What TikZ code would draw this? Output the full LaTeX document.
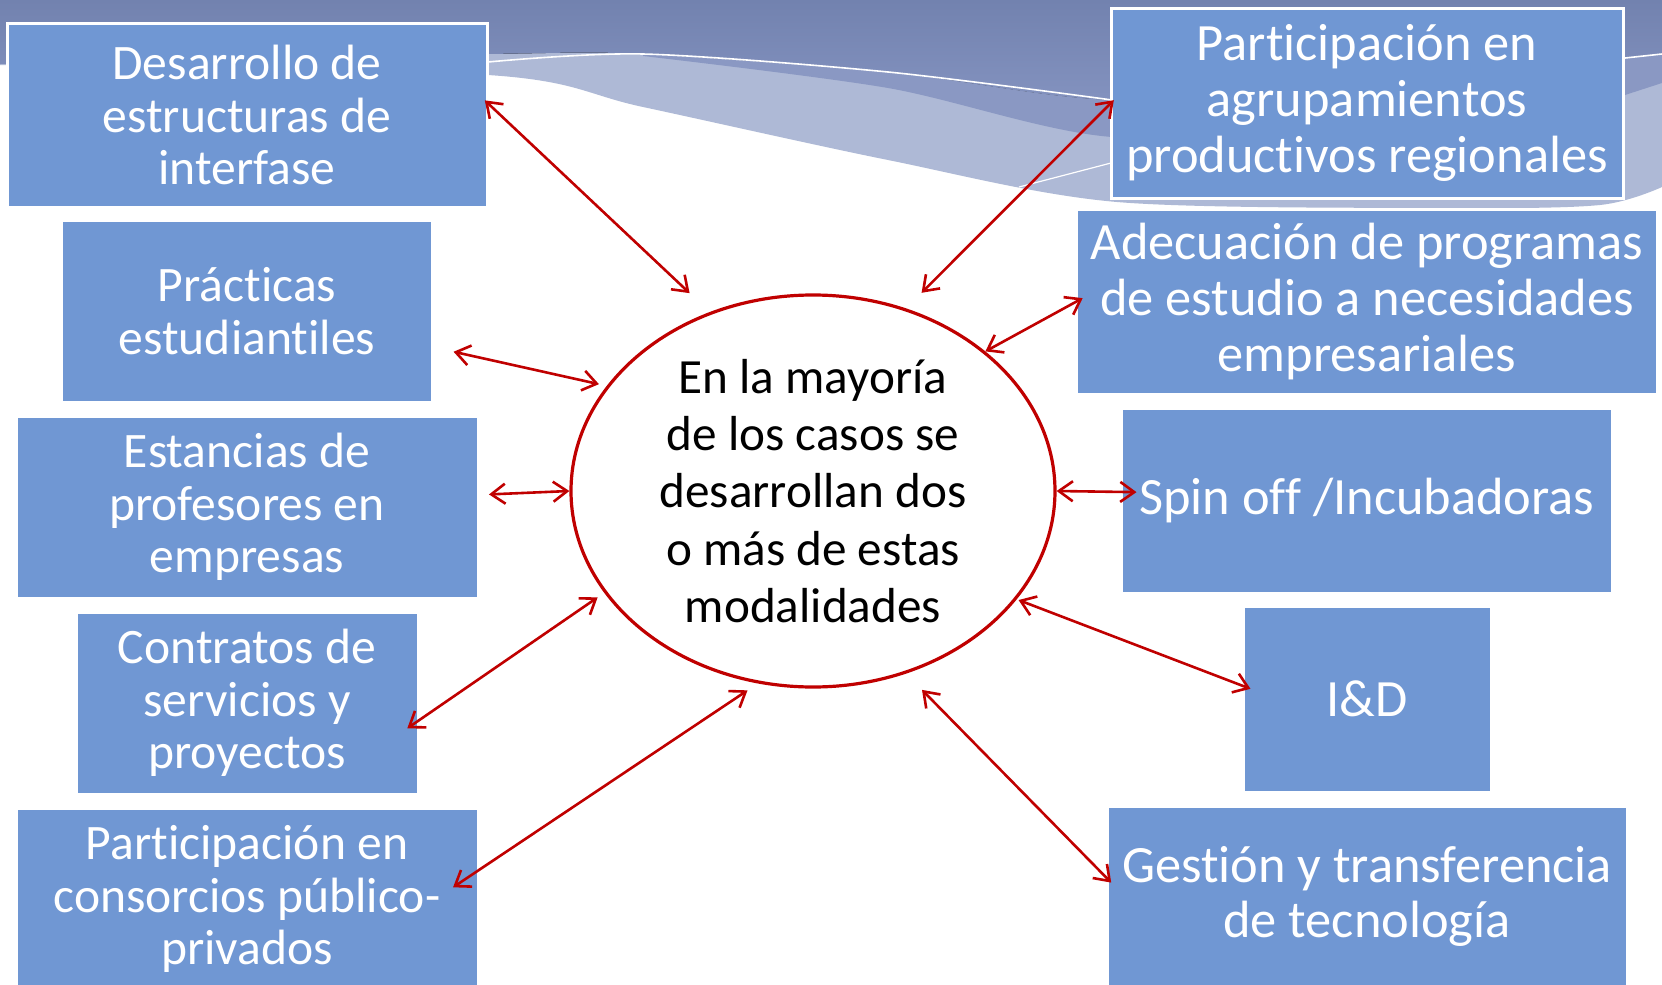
\documentclass[tikz,border=0pt]{standalone}
\usepackage{fontspec}
\setmainfont{Carlito}[Ligatures={NoCommon}]
\usepackage{tikz}
\usetikzlibrary{positioning, arrows.meta, shapes.geometric}
\definecolor{boxfill}{HTML}{7097D3}
\definecolor{linkred}{HTML}{C00000}
\definecolor{wavetop}{HTML}{7282AF}
\definecolor{wavebot}{HTML}{8392BF}
\definecolor{wavemid}{HTML}{8A98C3}
\definecolor{wavelight}{HTML}{AEB9D6}
\tikzset{
  modbox/.style   = {rectangle, draw=white, line width=1.5pt, fill=boxfill,
                     text=white, align=center, inner sep=0pt, outer sep=0pt},
  leftbox/.style  = {modbox, font=\fontsize{24.8}{26.2}\selectfont},
  rightbox/.style = {modbox, font=\fontsize{26.2}{27.8}\selectfont},
  hub/.style      = {ellipse, draw=linkred, line width=1.6pt, fill=white,
                     minimum width=242pt, minimum height=196pt, inner sep=0pt,
                     align=center, font=\fontsize{24.6}{28.6}\selectfont},
  link/.style     = {{Straight Barb[length=7pt,width=10pt]}-{Straight Barb[length=7pt,width=10pt]},
                     draw=linkred, line width=1.3pt},
  waveline/.style = {draw=white, line width=0.8pt},
}

\begin{document}
\begin{tikzpicture}[x=0.5pt, y=0.5pt, node distance=7pt]

  \useasboundingbox (0,0) rectangle (1662,-985);
  \fill[white] (0,0) rectangle (1662,-985);

  % ----- background waves -----
  \fill[wavelight] (0,0) -- (1662,0) -- plot[smooth] coordinates
    {(1662,-187) (1600,-205) (1450,-208) (1117,-202) (888,-160) (643,-107) (488,-75) (0,-65)} -- cycle;
  \fill[top color=wavetop, bottom color=wavebot] (0,0) -- (1662,0) -- plot[smooth] coordinates
    {(1662,-54) (1625,-58) (1370,-85) (1112,-100) (888,-72) (643,-54) (488,-54) (0,-64)} -- cycle;
  \fill[wavemid] plot[smooth] coordinates
    {(643,-54) (888,-72) (1112,-100) (1370,-85) (1625,-58) (1662,-54)}
    -- (1662,-83) -- plot[smooth] coordinates
    {(1625,-95) (1370,-125) (1112,-137) (888,-88) (643,-56)} -- cycle;
  \draw[waveline] plot[smooth] coordinates {(488,-62) (643,-54) (888,-72) (1112,-100)};
  \draw[waveline] (1625,-58) -- (1662,-54);
  \draw[waveline, line width=0.6pt] (1019,-187) -- (1111,-163);

  % ----- centre -----
  \node[hub] (e) at (813,-491)
       {En la mayoría\\de los casos se\\desarrollan dos\\o más de estas\\modalidades};

  % ----- LEFT column -----
  \node[leftbox, minimum width=240pt, minimum height=92pt] (b1) at (247,-115)
       {Desarrollo de\\estructuras de\\interfase};
  \node[leftbox, minimum width=185.5pt, minimum height=91pt, below=6.5pt of b1] (b2)
       {Prácticas\\estudiantiles};
  \node[leftbox, minimum width=231pt, minimum height=91pt, below=of b2] (b3)
       {Estancias de\\profesores en\\empresas};
  \node[leftbox, minimum width=171pt, minimum height=91pt, below=of b3] (b4)
       {Contratos de\\servicios y\\proyectos};
  \node[leftbox, minimum width=231pt, minimum height=91pt, below=of b4] (b5)
       {Participación en\\consorcios público-\\privados};

  % ----- RIGHT column -----
  \node[rightbox, minimum width=256pt, minimum height=95pt] (b6) at (1367,-103)
       {Participación en\\agrupamientos\\productivos regionales};
  \node[rightbox, minimum width=290.5pt, minimum height=92.5pt, below=5.5pt of b6] (b7)
       {Adecuación de programas\\de estudio a necesidades\\empresariales};
  \node[rightbox, minimum width=245.5pt, minimum height=92.5pt, below=of b7] (b8)
       {Spin off /Incubadoras};
  \node[rightbox, minimum width=124pt, minimum height=93pt, below=6.5pt of b8] (b9)
       {I\&D};
  \node[rightbox, minimum width=260pt, minimum height=90.5pt, below=of b9] (b10)
       {Gestión y transferencia\\de tecnología};

  % ----- links -----
  \draw[link, shorten <=-1.5pt, shorten >=13.8pt] (b1.3) -- (e.120);
  \draw[link, shorten <=10.8pt, shorten >=4pt] (b2.-11) -- (e.153);
  \draw[link, shorten <=5.5pt] (b3.3) -- (e.west);
  \draw[link, shorten <=-6.5pt, shorten >=4pt] (b4.-6) -- (e.206);
  \draw[link, shorten <=-15pt, shorten >=6.2pt] (b5.7) -- (e.254);
  \draw[link, shorten <=-2pt, shorten >=11pt] (b6.west) -- (e.63);
  \draw[link, shorten <=-3.5pt] (b7.west) -- (e.39);
  \draw[link, shorten <=-7.5pt] (b8.178) -- (e.east);
  \draw[link, shorten <=-4pt, shorten >=1pt] (b9.174) -- (e.332);
  \draw[link, shorten <=-3pt, shorten >=11.4pt] (b10.176) -- (e.297);

\end{tikzpicture}
\end{document}
